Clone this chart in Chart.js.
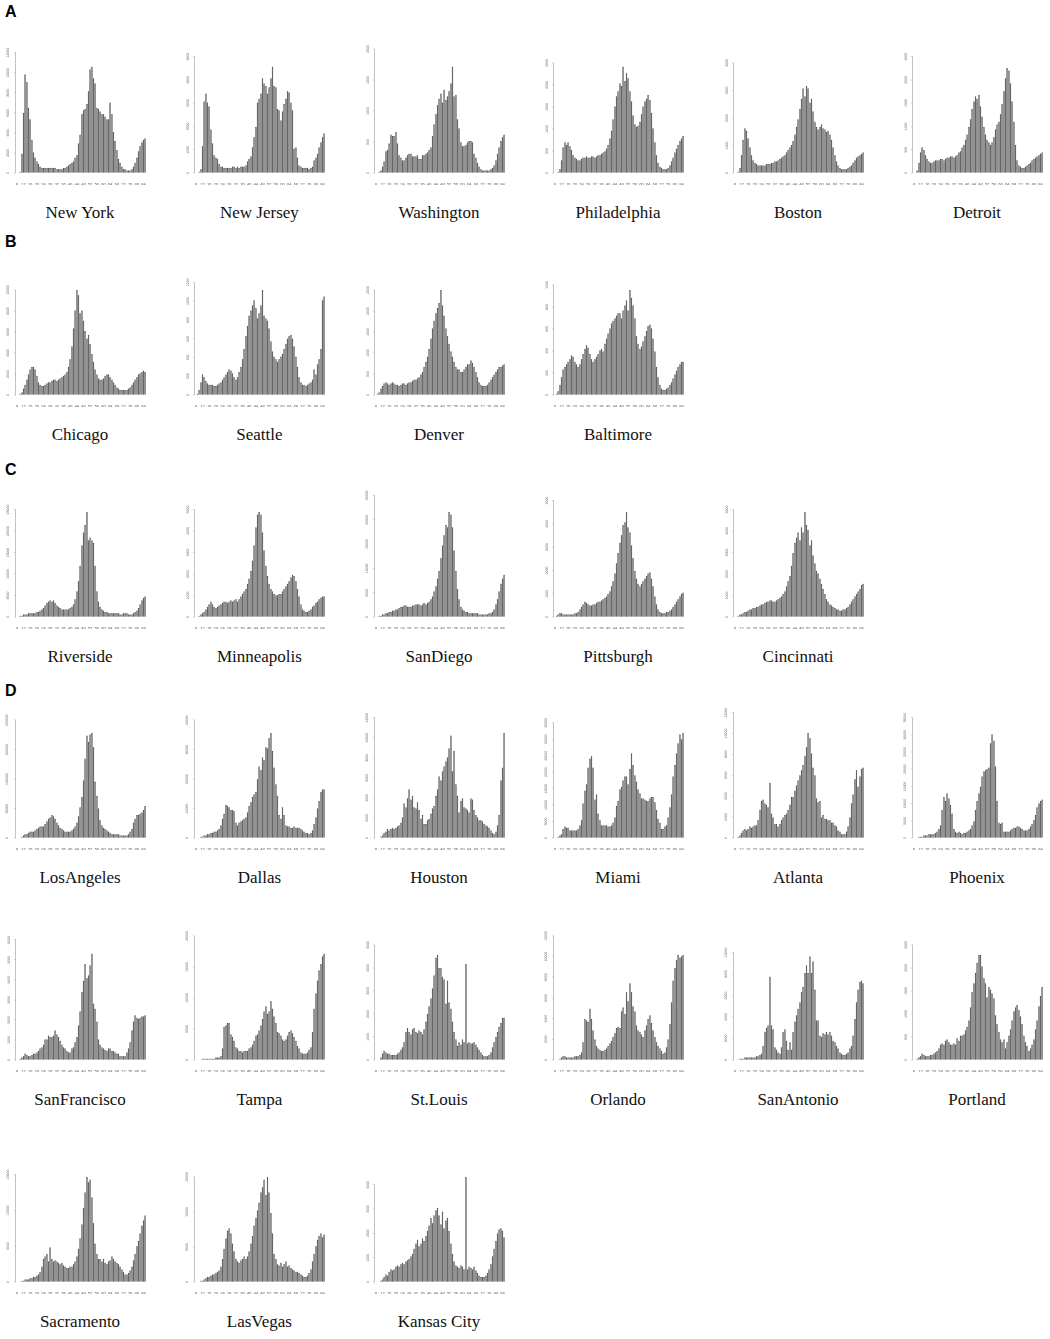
<!DOCTYPE html>
<html><head><meta charset="utf-8">
<script src="https://cdn.jsdelivr.net/npm/chart.js@4.4.0/dist/chart.umd.min.js"></script>
<style>
body{margin:0;background:#fff;width:1050px;height:1339px;position:relative;overflow:hidden}
canvas.panel{position:absolute}
.city{position:absolute;font-family:"Liberation Serif","Times New Roman",serif;font-size:17px;color:#111;text-align:center;width:170px;line-height:18px}
.sec{position:absolute;font-family:"Liberation Sans",Arial,sans-serif;font-weight:bold;font-size:16px;color:#000;line-height:18px}
</style></head><body>
<script>
// ---- categories (epidemiological week index) ----
const weeks = ['8','9','10','11','12','13','14','15','16','17','18','19','20','21','22','23','24','25','26','27',
'28','29','30','31','32','33','34','35','36','37','38','39','40','41','42','43','44','45','46','47',
'48','49','50','51','52','53','54','55','56','57','58','59','60','61','62','63','64','65','66','67',
'68','69','70','71','72','73','74','75','76','77','78','79','80','81','82','83','84','85'];

// ---- series: bar heights (percent of panel plot height) ----
const newYork = [0,0,1,15,47,77,71,51,42,26, 16,12,9,7,5,4,4,4,4,4, 4,4,4,4,3,3,3,3,4,4, 5,6,7,8,9,12,14,23,30,46, 49,50,54,64,81,83,74,70,51,50, 48,46,46,44,42,42,55,46,32,25, 18,11,8,5,3,3,2,2,2,3, 5,8,12,17,21,24,26,27];
const newJersey = [0,0,1,3,21,56,62,55,52,34, 23,14,12,11,7,5,5,4,4,4, 4,4,5,5,4,5,4,5,5,5, 6,9,11,13,20,28,36,55,58,62, 74,70,68,62,67,74,83,68,67,50, 49,41,48,54,58,64,63,55,49,19, 20,12,6,5,4,4,4,4,3,4, 5,10,12,15,20,24,28,31];
const washington = [0,0,1,2,5,9,17,18,23,30, 29,29,32,23,14,12,10,10,12,14, 15,15,13,13,13,14,11,11,14,14, 15,16,18,20,29,38,46,53,58,62, 55,65,57,60,64,70,83,60,61,42, 35,24,21,21,22,24,25,25,24,15, 12,8,5,3,2,2,2,2,2,3, 4,6,10,15,20,25,28,30];
const philadelphia = [0,0,1,3,10,20,24,22,24,21, 18,14,12,11,10,10,11,12,12,13, 12,12,13,13,12,13,14,14,15,16, 17,19,22,27,33,42,52,60,64,70, 68,83,72,78,74,64,56,45,38,36, 37,40,46,52,56,58,61,57,47,35, 24,14,8,5,4,3,3,3,4,6, 9,12,16,19,22,25,27,29];
const boston = [0,0,1,4,14,26,35,33,27,20, 14,10,8,7,6,6,6,6,6,7, 7,7,8,8,9,9,10,11,12,13, 14,16,18,20,22,25,30,36,42,50, 58,66,60,68,66,55,58,48,40,36, 34,36,38,35,34,32,33,30,26,20, 14,9,6,4,3,3,3,3,4,5, 6,8,10,12,13,14,15,16];
const detroit = [0,0,2,8,16,20,18,14,11,9, 8,8,9,10,10,10,11,11,10,11, 12,12,13,13,12,13,14,16,17,20, 22,26,30,36,42,50,56,60,58,61, 52,44,36,30,26,24,22,24,28,34, 38,40,46,54,64,74,82,80,70,56, 40,22,10,6,5,4,4,5,6,7, 8,10,11,12,13,14,15,16];
const chicago = [0,0,1,2,5,8,12,16,20,22, 22,20,15,10,8,7,7,8,9,10, 10,11,12,12,11,12,13,14,15,16, 18,22,28,38,52,66,82,78,64,66, 58,50,44,47,40,32,26,20,16,13, 12,12,13,15,16,16,14,12,10,8, 6,5,4,4,4,4,4,5,6,8, 10,12,14,16,17,18,19,18];
const seattle = [0,1,4,10,16,14,11,9,8,8, 8,7,7,8,9,10,12,14,16,18, 20,19,17,14,12,14,18,22,28,36, 46,54,62,66,70,74,68,60,64,70, 82,62,60,58,52,42,34,30,28,26, 28,30,32,36,40,44,46,47,44,38, 30,22,14,10,8,8,7,8,9,10, 12,20,16,24,28,36,74,77];
const denver = [0,1,2,5,7,9,10,9,8,9, 10,9,8,8,7,8,9,9,8,9, 10,10,11,12,12,13,14,16,18,22, 26,30,36,44,52,58,64,68,72,82, 70,62,52,46,40,34,30,26,22,20, 20,18,18,20,22,24,24,27,25,22, 18,14,10,8,7,7,7,8,10,12, 14,16,18,20,22,22,23,24];
const baltimore = [0,1,3,8,14,20,22,24,26,28, 31,30,26,24,22,24,28,32,36,39, 37,32,28,26,28,30,32,35,36,34, 40,44,48,52,56,58,60,62,64,64, 60,66,70,74,66,82,76,70,60,46, 40,36,38,42,46,50,54,55,52,44, 34,22,14,8,5,4,4,5,6,8, 10,13,16,19,22,24,26,26];
const riverside = [0,0,1,1,2,2,2,3,3,3, 3,3,4,4,5,6,7,9,11,12, 13,12,13,11,9,8,7,6,6,6, 6,6,7,8,10,14,20,28,40,56, 66,72,82,60,62,60,58,40,20,12, 8,6,5,4,4,3,3,3,3,3, 3,3,2,2,3,3,3,2,2,2, 3,4,5,7,10,13,15,16];
const minneapolis = [0,0,1,2,3,4,6,8,10,12, 10,8,7,8,9,10,11,12,12,11, 12,13,12,13,14,12,14,16,18,20, 22,26,30,36,44,56,70,80,82,80, 66,52,40,32,26,22,20,18,17,17, 18,18,20,22,24,26,28,31,33,32, 28,22,16,10,6,5,4,4,5,6, 8,9,11,12,14,15,16,16];
const sanDiego = [0,0,1,1,2,2,3,3,4,4, 5,5,6,6,7,8,8,9,9,8, 8,8,9,9,10,10,10,9,10,11, 10,11,12,14,16,20,24,30,36,46, 56,64,72,70,82,80,70,52,36,22, 14,8,6,5,4,4,3,3,3,3, 3,3,2,2,2,2,2,2,3,3, 4,6,10,14,20,26,30,33];
const pittsburgh = [0,1,2,3,3,2,2,2,2,2, 2,2,3,3,4,6,8,10,12,11, 10,9,9,10,10,11,12,12,13,14, 15,16,18,20,24,28,34,42,50,58, 64,72,74,82,70,66,56,46,36,30, 26,24,26,28,30,32,34,35,30,24, 16,10,6,4,3,3,3,4,4,5, 6,8,10,12,14,16,18,19];
const cincinnati = [0,0,1,2,2,3,4,4,5,6, 6,7,7,8,8,9,10,10,11,12, 12,13,13,12,12,13,14,15,16,18, 20,24,28,32,40,50,58,62,66,60, 70,66,82,72,68,56,60,48,42,36, 34,30,26,22,18,14,12,10,9,8, 7,6,6,5,5,6,6,7,8,10, 12,14,16,18,20,22,25,26];
const losAngeles = [0,0,0,1,2,3,3,4,5,5, 5,6,7,8,9,9,9,11,13,15, 16,18,17,15,12,10,8,7,6,5, 5,5,5,6,7,9,12,17,24,32, 45,62,80,75,81,82,71,44,33,23, 14,10,8,7,6,5,4,3,3,3, 3,3,2,2,2,2,2,3,5,7, 12,15,18,18,19,20,22,25];
const dallas = [0,0,0,1,1,2,2,3,3,4, 4,5,5,6,7,10,15,19,26,25, 24,22,22,21,12,10,12,13,14,15, 16,20,25,28,32,34,36,46,56,53, 63,61,71,70,78,82,68,55,42,33, 18,15,24,18,10,9,9,8,8,9, 8,8,8,7,6,5,4,4,3,4, 6,11,16,23,29,36,38,38];
const houston = [0,0,0,1,2,4,5,7,6,7, 8,7,8,9,10,12,16,27,24,31, 38,30,33,24,23,28,22,15,18,11, 11,14,15,19,23,25,33,38,48,45, 52,56,60,63,70,80,52,68,42,33, 20,29,31,24,23,22,20,31,30,22, 18,16,14,14,13,11,10,9,8,6, 4,3,5,10,18,45,55,82];
const miami = [0,0,1,2,3,7,9,8,8,6, 6,6,6,6,7,10,14,27,37,42, 55,62,64,55,30,34,19,14,10,10, 10,10,9,9,10,12,16,25,29,38, 40,45,48,48,42,54,66,57,49,44, 38,35,31,31,30,29,29,31,32,32, 28,22,15,12,7,7,9,10,16,24, 34,48,57,66,74,81,77,82];
const atlanta = [0,0,1,2,4,6,7,6,7,9, 8,9,10,10,14,22,29,30,27,26, 24,43,19,16,11,11,9,11,14,16, 18,19,22,26,32,32,37,41,45,49, 53,57,64,71,82,78,66,55,49,31, 28,29,16,18,15,15,14,14,12,12, 10,9,6,5,3,3,3,5,9,16, 27,34,46,53,40,48,54,55];
const phoenix = [0,0,0,1,1,1,2,2,2,3, 3,3,3,4,5,7,10,22,32,29, 35,31,26,19,7,5,4,5,4,3, 4,4,5,6,7,10,13,22,29,35, 40,48,52,53,54,55,74,81,76,56, 29,12,11,12,5,5,5,5,6,7, 8,8,9,9,8,7,6,6,6,7, 9,11,14,18,24,27,29,30];
const sanFrancisco = [0,0,1,2,3,5,4,3,3,4, 5,5,6,7,9,10,12,16,16,19, 18,18,19,23,20,18,15,12,10,9, 7,6,6,9,10,14,18,27,38,53, 62,75,64,66,74,83,44,40,30,16, 12,10,9,8,7,9,9,7,7,6, 5,5,3,3,3,3,6,9,14,23, 30,35,33,32,33,34,34,35];
const tampa = [0,0,0,0,1,1,1,1,1,1, 1,1,2,2,2,3,9,26,27,29, 29,20,18,15,10,9,7,7,6,7, 7,7,9,10,12,15,19,20,23,27, 32,38,42,36,38,46,40,34,29,22, 21,19,16,15,16,19,22,23,21,18, 15,11,9,6,5,5,5,6,8,10, 22,40,52,62,70,75,81,83];
const stLouis = [0,0,0,2,5,7,6,5,5,4, 4,4,4,5,6,8,10,14,22,25, 22,20,24,25,22,21,23,22,20,24, 30,36,42,48,56,66,80,82,72,72, 65,63,44,62,45,40,30,22,16,11, 14,12,16,14,75,13,14,13,13,14, 12,10,8,6,4,3,3,3,4,6, 10,14,18,22,26,29,33,33];
const orlando = [0,0,0,1,2,3,3,2,2,2, 2,2,3,3,3,4,6,14,32,31, 30,40,32,23,16,11,9,8,7,7, 8,9,11,13,15,18,21,25,26,25, 38,41,36,53,46,60,53,42,38,27, 23,22,20,18,23,27,32,35,29,23, 18,14,11,9,7,5,6,10,16,28, 45,62,72,78,82,80,81,82];
const sanAntonio = [0,0,0,1,1,1,2,2,2,2, 2,2,2,3,3,4,5,11,22,25, 27,65,27,24,10,8,6,5,10,22, 24,15,8,14,8,22,30,35,40,45, 53,57,68,74,68,81,68,77,55,31, 31,19,18,21,20,22,20,22,19,15, 14,11,9,6,5,4,4,5,6,9, 11,19,32,45,55,61,62,60];
const portland = [0,0,1,2,3,5,4,3,3,3, 4,4,5,6,7,9,12,13,12,15, 16,14,12,12,13,12,17,15,19,19, 20,23,26,31,41,53,60,68,76,82, 82,73,64,60,49,57,55,52,48,35, 28,22,16,14,16,9,14,19,24,31, 38,41,43,39,34,28,19,14,11,7, 9,12,16,24,31,42,50,57];
const sacramento = [0,0,0,1,1,2,2,2,3,3, 4,4,5,6,8,12,18,20,22,16, 27,18,16,17,16,15,14,15,13,12, 11,11,12,12,14,16,20,26,34,45, 58,70,82,78,80,66,46,30,22,18, 18,16,18,15,14,16,17,20,18,16, 15,14,12,10,8,6,6,7,9,12, 17,22,28,32,38,44,48,52];
const lasVegas = [0,0,0,1,1,2,3,4,4,5, 6,6,7,8,9,12,18,26,34,40, 42,38,30,24,18,16,15,17,18,20, 18,20,24,30,36,44,50,56,62,70, 74,80,68,82,70,54,38,22,18,14, 13,15,12,14,16,12,13,11,10,9, 8,8,7,6,5,4,4,5,7,10, 16,22,28,33,36,38,35,37];
const kansasCity = [0,0,0,1,2,4,6,5,8,10, 9,10,12,13,12,14,15,14,16,17, 18,20,22,26,30,33,28,30,34,32, 36,40,44,50,46,52,56,58,52,45, 55,42,48,50,40,30,22,16,13,12, 11,13,12,10,82,10,12,11,10,12, 9,7,5,4,4,4,5,7,10,14, 20,26,32,38,41,42,40,35];

// ---- panel names, series, y-axis tick ranges ----
const cityNames = ['New York','New Jersey','Washington','Philadelphia','Boston','Detroit',
  'Chicago','Seattle','Denver','Baltimore',
  'Riverside','Minneapolis','SanDiego','Pittsburgh','Cincinnati',
  'LosAngeles','Dallas','Houston','Miami','Atlanta','Phoenix',
  'SanFrancisco','Tampa','St.Louis','Orlando','SanAntonio','Portland',
  'Sacramento','LasVegas','Kansas City'];
const citySeries = [newYork,newJersey,washington,philadelphia,boston,detroit,
  chicago,seattle,denver,baltimore,
  riverside,minneapolis,sanDiego,pittsburgh,cincinnati,
  losAngeles,dallas,houston,miami,atlanta,phoenix,
  sanFrancisco,tampa,stLouis,orlando,sanAntonio,portland,
  sacramento,lasVegas,kansasCity];
const yTopTick = [94,91,97,86,86,91, 82,88,82,86, 84,84,95,91,84, 92,92,94,90,98,94, 94,97,90,97,84,90, 84,82,76];
const yTickCount = [6,5,4,5,4,5, 5,6,5,5, 5,5,5,5,5, 4,4,6,7,6,7, 6,4,5,6,5,5, 3,3,4];
const yTickStep = [2000,1000,500,500,1000,500, 2000,200,500,200, 5000,1000,5000,1000,1000, 50000,10000,2000,5000,2000,5000, 1000,5000,1000,2000,2000,500, 5000,5000,1000];
const sectionLetters = ['A','B','C','D'];

// ---- layout ----
const rowMembers = [[0,1,2,3,4,5],[6,7,8,9],[10,11,12,13,14],[15,16,17,18,19,20],[21,22,23,24,25,26],[27,28,29]];
const rowBaseline = [173,395,617,838,1060,1282];
const colX = [0,179.4,359,538,718,897];
const sectionY = [3,233,461,682];

const yAxisLine = {
  id:'yAxisLine',
  afterDraw(chart){
    const y = chart.scales.y, ctx = chart.ctx;
    const t = y.ticks; const top = t[t.length-1].value;
    ctx.save(); ctx.strokeStyle='#b5b5b5'; ctx.lineWidth=0.8;
    ctx.beginPath(); ctx.moveTo(y.right-0.4, y.getPixelForValue(0)); ctx.lineTo(y.right-0.4, y.getPixelForValue(top)); ctx.stroke();
    ctx.restore();
  }
};

sectionLetters.forEach((L,i)=>{
  const d=document.createElement('div'); d.className='sec'; d.textContent=L;
  d.style.left='5px'; d.style.top=sectionY[i]+'px'; document.body.appendChild(d);
});

rowMembers.forEach((members,r)=>{
  const base = rowBaseline[r];
  members.forEach((idx,c)=>{
    const W=155, H=147;
    const cv=document.createElement('canvas'); cv.className='panel';
    cv.width=W; cv.height=H; cv.style.width=W+'px'; cv.style.height=H+'px';
    cv.style.left=(colX[c]-1)+'px'; cv.style.top=(base-135)+'px';
    document.body.appendChild(cv);
    const lab=document.createElement('div'); lab.className='city'; lab.textContent=cityNames[idx];
    lab.style.left=(colX[c]+80-85)+'px'; lab.style.top=(base+31)+'px'; document.body.appendChild(lab);

    const top=yTopTick[idx], n=yTickCount[idx], step=yTickStep[idx];
    const tickVals=[]; for(let k=0;k<=n;k++) tickVals.push(top*k/n);
    new Chart(cv,{
      type:'bar',
      data:{labels:weeks,datasets:[{data:citySeries[idx],backgroundColor:'#989898',borderColor:'#3c3c3c',borderWidth:0.6,barPercentage:0.82,categoryPercentage:1}]},
      options:{
        responsive:false,animation:false,devicePixelRatio:2,
        layout:{padding:{left:0,right:8,top:7,bottom:0}},
        plugins:{legend:{display:false},tooltip:{enabled:false}},
        scales:{
          x:{type:'category',offset:true,
             grid:{display:false},border:{display:false},
             ticks:{autoSkip:false,maxRotation:0,minRotation:0,padding:1,color:'#555',font:{size:4,family:'Liberation Sans'},
               callback:(v,i)=> i%4===0 ? weeks[i] : ''},
             afterFit:s=>{s.height=12;}},
          y:{min:0,max:100,
             border:{display:false},
             grid:{display:true,drawOnChartArea:false,tickLength:2,color:'#b5b5b5',lineWidth:0.6},
             afterBuildTicks:s=>{s.ticks=tickVals.map(v=>({value:v}));},
             ticks:{minRotation:90,maxRotation:90,crossAlign:'center',padding:1,color:'#666',font:{size:3.5,family:'Liberation Sans'},
               callback:(v,i)=>String(i*step)},
             afterFit:s=>{s.width=17;}}
        }
      },
      plugins:[yAxisLine]
    });
  });
});
</script>
</body></html>
